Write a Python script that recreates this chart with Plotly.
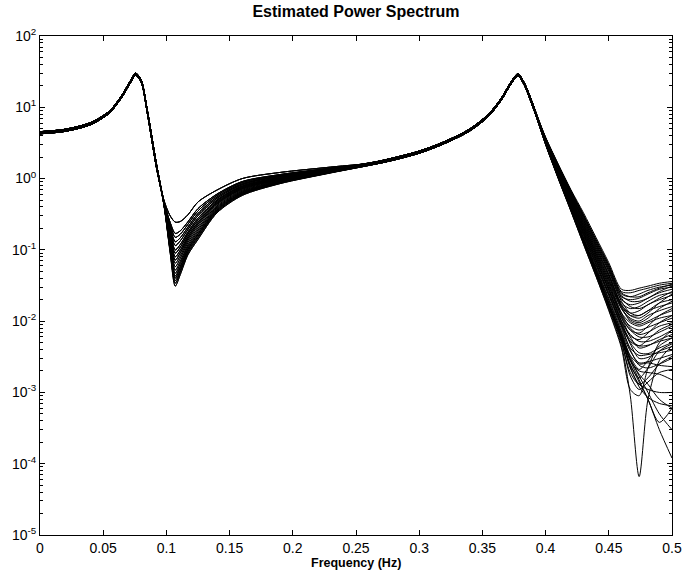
import plotly.graph_objects as go

# ---------------- data ----------------
# low-frequency segment (first resonance), three slightly different estimates
LOW_F = [0.0, 0.02, 0.04, 0.055, 0.065, 0.071, 0.0757, 0.08, 0.085, 0.092]
LOW_1 = [4.40, 4.75, 5.90, 8.6, 14.5, 22.0, 29.0, 23.5, 8.5, 1.55]
LOW_2 = [4.55, 4.92, 6.10, 8.9, 15.0, 22.8, 30.0, 24.3, 8.9, 1.65]
LOW_3 = [4.25, 4.60, 5.70, 8.3, 14.0, 21.2, 28.0, 22.7, 8.1, 1.47]

# notch region around 0.107 Hz
DIP_F = [0.098, 0.103, 0.107, 0.111, 0.117, 0.125, 0.14, 0.16, 0.19, 0.23]
DIP_ROWS = [
    [0.50, 0.30, 0.245, 0.25, 0.31, 0.47, 0.69, 1.00, 1.22, 1.45],
    [0.49, 0.242, 0.170, 0.185, 0.247, 0.379, 0.605, 0.908, 1.14, 1.40],
    [0.48, 0.225, 0.150, 0.166, 0.228, 0.352, 0.579, 0.879, 1.12, 1.39],
    [0.48, 0.207, 0.130, 0.148, 0.208, 0.324, 0.551, 0.845, 1.09, 1.37],
    [0.47, 0.193, 0.115, 0.134, 0.193, 0.302, 0.527, 0.819, 1.07, 1.35],
    [0.47, 0.178, 0.100, 0.119, 0.177, 0.278, 0.501, 0.789, 1.04, 1.33],
    [0.46, 0.168, 0.090, 0.109, 0.166, 0.261, 0.483, 0.767, 1.02, 1.32],
    [0.46, 0.156, 0.080, 0.099, 0.154, 0.244, 0.463, 0.745, 1.00, 1.31],
    [0.457, 0.147, 0.072, 0.091, 0.144, 0.230, 0.446, 0.724, 0.98, 1.29],
    [0.454, 0.139, 0.065, 0.083, 0.135, 0.216, 0.431, 0.705, 0.966, 1.28],
    [0.450, 0.129, 0.058, 0.076, 0.126, 0.202, 0.413, 0.684, 0.948, 1.27],
    [0.447, 0.122, 0.052, 0.069, 0.117, 0.190, 0.397, 0.664, 0.929, 1.26],
    [0.443, 0.115, 0.047, 0.064, 0.110, 0.179, 0.384, 0.647, 0.914, 1.25],
    [0.440, 0.109, 0.043, 0.059, 0.104, 0.169, 0.372, 0.631, 0.900, 1.24],
    [0.438, 0.105, 0.040, 0.056, 0.100, 0.163, 0.362, 0.620, 0.888, 1.23],
    [0.435, 0.100, 0.037, 0.052, 0.095, 0.155, 0.352, 0.607, 0.877, 1.22],
    [0.433, 0.095, 0.034, 0.049, 0.090, 0.148, 0.341, 0.594, 0.863, 1.21],
    [0.43, 0.09, 0.031, 0.045, 0.085, 0.14, 0.33, 0.58, 0.85, 1.20],
]

# mid segment (second resonance)
MID_F = [0.27, 0.30, 0.32, 0.34, 0.355, 0.365, 0.372, 0.378, 0.383, 0.39]
MID_1 = [1.72, 2.35, 3.2, 4.8, 7.8, 13.0, 21.0, 28.5, 21.5, 10.5]
MID_2 = [1.78, 2.43, 3.3, 4.97, 8.1, 13.5, 21.8, 29.5, 22.3, 11.0]
MID_3 = [1.66, 2.27, 3.1, 4.64, 7.5, 12.6, 20.3, 27.5, 20.7, 10.0]

# high-frequency roll-off and scattered tails
TAIL_F = [0.40, 0.41, 0.42, 0.43, 0.44, 0.45, 0.46, 0.467, 0.474, 0.481, 0.49, 0.50]
TAIL_ROWS = [
    [3.8, 1.6, 0.70, 0.33, 0.148, 0.066, 0.028, 0.027, 0.029, 0.031, 0.034, 0.036],
    [3.76, 1.56, 0.68, 0.31, 0.138, 0.062, 0.026, 0.025, 0.027, 0.029, 0.032, 0.034],
    [3.72, 1.53, 0.65, 0.30, 0.130, 0.058, 0.024, 0.022, 0.024, 0.027, 0.030, 0.032],
    [3.67, 1.50, 0.63, 0.285, 0.122, 0.054, 0.022, 0.020, 0.021, 0.024, 0.028, 0.030],
    [3.62, 1.46, 0.61, 0.27, 0.115, 0.050, 0.020, 0.017, 0.018, 0.021, 0.025, 0.028],
    [3.58, 1.43, 0.59, 0.257, 0.108, 0.046, 0.018, 0.015, 0.016, 0.019, 0.023, 0.025],
    [3.54, 1.39, 0.57, 0.244, 0.101, 0.043, 0.017, 0.013, 0.014, 0.017, 0.020, 0.023],
    [3.62, 1.46, 0.61, 0.27, 0.115, 0.050, 0.019, 0.013, 0.012, 0.014, 0.018, 0.020],
    [3.5, 1.35, 0.55, 0.232, 0.095, 0.040, 0.016, 0.012, 0.012, 0.014, 0.016, 0.018],
    [3.46, 1.32, 0.53, 0.22, 0.089, 0.037, 0.015, 0.011, 0.010, 0.012, 0.014, 0.016],
    [3.54, 1.39, 0.57, 0.244, 0.101, 0.043, 0.016, 0.010, 0.009, 0.010, 0.012, 0.014],
    [3.42, 1.29, 0.51, 0.21, 0.084, 0.034, 0.013, 0.0095, 0.0085, 0.0095, 0.011, 0.012],
    [3.38, 1.26, 0.495, 0.199, 0.079, 0.031, 0.012, 0.0085, 0.0075, 0.0082, 0.0095, 0.011],
    [3.46, 1.32, 0.53, 0.22, 0.089, 0.036, 0.013, 0.008, 0.0065, 0.007, 0.0085, 0.0095],
    [3.34, 1.23, 0.48, 0.19, 0.074, 0.029, 0.011, 0.0075, 0.006, 0.006, 0.007, 0.0085],
    [3.30, 1.21, 0.46, 0.18, 0.070, 0.027, 0.0100, 0.0065, 0.0052, 0.0052, 0.006, 0.0075],
    [3.72, 1.53, 0.65, 0.30, 0.13, 0.057, 0.023, 0.019, 0.019, 0.021, 0.026, 0.031],
    [3.58, 1.43, 0.59, 0.257, 0.108, 0.045, 0.017, 0.012, 0.011, 0.013, 0.018, 0.024],
    [3.42, 1.29, 0.51, 0.21, 0.084, 0.033, 0.012, 0.0075, 0.0068, 0.0085, 0.012, 0.015],
    [3.34, 1.23, 0.48, 0.19, 0.074, 0.028, 0.0102, 0.0062, 0.0055, 0.0068, 0.0095, 0.012],
    [3.5, 1.35, 0.55, 0.232, 0.094, 0.039, 0.015, 0.0105, 0.0095, 0.011, 0.015, 0.019],
    [3.76, 1.56, 0.68, 0.31, 0.138, 0.061, 0.025, 0.022, 0.022, 0.025, 0.029, 0.033],
    [3.26, 1.18, 0.445, 0.171, 0.065, 0.024, 0.0088, 0.0052, 0.0045, 0.0055, 0.0075, 0.009],
    [3.67, 1.50, 0.63, 0.285, 0.122, 0.053, 0.021, 0.016, 0.015, 0.017, 0.021, 0.026],
    [3.38, 1.26, 0.495, 0.199, 0.079, 0.031, 0.0115, 0.006, 0.0042, 0.0045, 0.0055, 0.0065],
    [3.26, 1.18, 0.445, 0.171, 0.065, 0.025, 0.0093, 0.0055, 0.0045, 0.0046, 0.0052, 0.0058],
    [3.22, 1.15, 0.43, 0.163, 0.061, 0.023, 0.0087, 0.005, 0.0036, 0.0035, 0.0042, 0.005],
    [3.30, 1.21, 0.46, 0.18, 0.070, 0.027, 0.0098, 0.0048, 0.003, 0.0031, 0.0038, 0.0044],
    [3.18, 1.12, 0.416, 0.155, 0.057, 0.021, 0.0079, 0.0042, 0.0033, 0.0034, 0.0036, 0.0039],
    [3.15, 1.10, 0.40, 0.147, 0.054, 0.0197, 0.0072, 0.0038, 0.0026, 0.0027, 0.003, 0.0034],
    [3.22, 1.15, 0.43, 0.163, 0.061, 0.023, 0.0085, 0.004, 0.0024, 0.0022, 0.0025, 0.003],
    [3.11, 1.07, 0.39, 0.14, 0.051, 0.018, 0.0066, 0.0033, 0.0025, 0.0026, 0.0024, 0.0023],
    [3.07, 1.05, 0.375, 0.133, 0.048, 0.0169, 0.006, 0.0028, 0.002, 0.0019, 0.0018, 0.0015],
    [3.15, 1.10, 0.40, 0.147, 0.054, 0.0197, 0.0070, 0.0032, 0.0021, 0.0028, 0.0045, 0.0058],
    [3.07, 1.05, 0.375, 0.133, 0.048, 0.0169, 0.0058, 0.0024, 0.0016, 0.0022, 0.0038, 0.0048],
    [3.03, 1.02, 0.36, 0.126, 0.045, 0.0157, 0.0055, 0.0022, 0.0013, 0.0011, 0.0010, 0.0010],
    [3.11, 1.07, 0.39, 0.14, 0.051, 0.018, 0.0064, 0.0029, 0.0018, 0.0013, 0.0008, 0.0006],
    [3.0, 1.0, 0.35, 0.12, 0.042, 0.0145, 0.0045, 0.0009, 0.000066, 0.0008, 0.0028, 0.0045],
    [3.03, 1.02, 0.36, 0.126, 0.045, 0.0157, 0.005, 0.0019, 0.0013, 0.0016, 0.0025, 0.0032],
    [3.05, 1.03, 0.37, 0.13, 0.046, 0.016, 0.0055, 0.0025, 0.0014, 0.0008, 0.0003, 0.00012],
    [3.1, 1.06, 0.38, 0.135, 0.049, 0.017, 0.006, 0.0028, 0.0015, 0.0008, 0.00038, 0.0006],
    [3.12, 1.08, 0.39, 0.14, 0.05, 0.0175, 0.0063, 0.003, 0.0017, 0.001, 0.0005, 0.0003],
    [3.05, 1.03, 0.365, 0.128, 0.046, 0.016, 0.0052, 0.0017, 0.0011, 0.0014, 0.0019, 0.0021],
    [3.09, 1.06, 0.38, 0.135, 0.049, 0.0172, 0.0059, 0.0023, 0.0012, 0.00085, 0.0007, 0.00065],
    [3.0, 1.0, 0.35, 0.12, 0.042, 0.014, 0.0042, 0.0011, 0.0009, 0.0022, 0.005, 0.0075],
]

X_TICKS = [0, 0.05, 0.1, 0.15, 0.2, 0.25, 0.3, 0.35, 0.4, 0.45, 0.5]
X_TICK_TEXT = ["0", "0.05", "0.1", "0.15", "0.2", "0.25", "0.3", "0.35", "0.4", "0.45", "0.5"]
Y_EXPONENTS = [-5, -4, -3, -2, -1, 0, 1, 2]

TITLE = "Estimated Power Spectrum"
XLABEL = "Frequency (Hz)"

# ---------------- figure ----------------
LOW_SET = [LOW_1, LOW_2, LOW_3]
MID_SET = [MID_1, MID_2, MID_3]
freq = LOW_F + DIP_F + MID_F + TAIL_F

fig = go.Figure()
for i, tail in enumerate(TAIL_ROWS):
    vals = LOW_SET[i % 3] + DIP_ROWS[i % len(DIP_ROWS)] + MID_SET[(i // 3) % 3] + tail
    fig.add_trace(go.Scatter(
        x=freq, y=vals, mode="lines",
        line=dict(color="black", width=1, shape="spline", smoothing=0.8),
        hoverinfo="skip", showlegend=False,
    ))

FONT = "Liberation Sans, Arial, Helvetica, sans-serif"
y_tickvals = [10.0 ** e for e in Y_EXPONENTS]
y_ticktext = ["10<sup>%d</sup>" % e for e in Y_EXPONENTS]
minor_vals = [k * 10.0 ** e for e in Y_EXPONENTS[:-1] for k in range(2, 10)]

fig.update_layout(
    width=682, height=574,
    margin=dict(l=40, r=10, t=36, b=39, pad=0, autoexpand=False),
    paper_bgcolor="white", plot_bgcolor="white",
    font=dict(family=FONT, size=14, color="black"),
    title=dict(text="<b>%s</b>" % TITLE, x=0.5, xref="paper", xanchor="center",
               y=1 - 11 / 574, yref="container", yanchor="middle",
               font=dict(family=FONT, size=16, color="black")),
    xaxis=dict(range=[0, 0.5], tickvals=X_TICKS, ticktext=X_TICK_TEXT,
               ticks="inside", ticklen=5, tickcolor="black", tickwidth=1,
               showline=True, linecolor="black", linewidth=1, mirror="ticks",
               showgrid=False, zeroline=False, automargin=False,
               tickfont=dict(family=FONT, size=14, color="black")),
    yaxis=dict(type="log", range=[-5, 2], tickvals=y_tickvals, ticktext=y_ticktext,
               ticks="inside", ticklen=5, tickcolor="black", tickwidth=1,
               showline=True, linecolor="black", linewidth=1, mirror="ticks",
               showgrid=False, zeroline=False, automargin=False,
               minor=dict(tickvals=minor_vals, ticks="inside", ticklen=3,
                          tickcolor="black", tickwidth=1, showgrid=False),
               tickfont=dict(family=FONT, size=14, color="black")),
    annotations=[dict(text="<b>%s</b>" % XLABEL, x=0.5, xref="paper",
                      y=-(563 - 535) / 499, yref="paper", yanchor="middle",
                      showarrow=False, font=dict(family=FONT, size=12.5, color="black"))],
)

fig.write_html("out.html")
